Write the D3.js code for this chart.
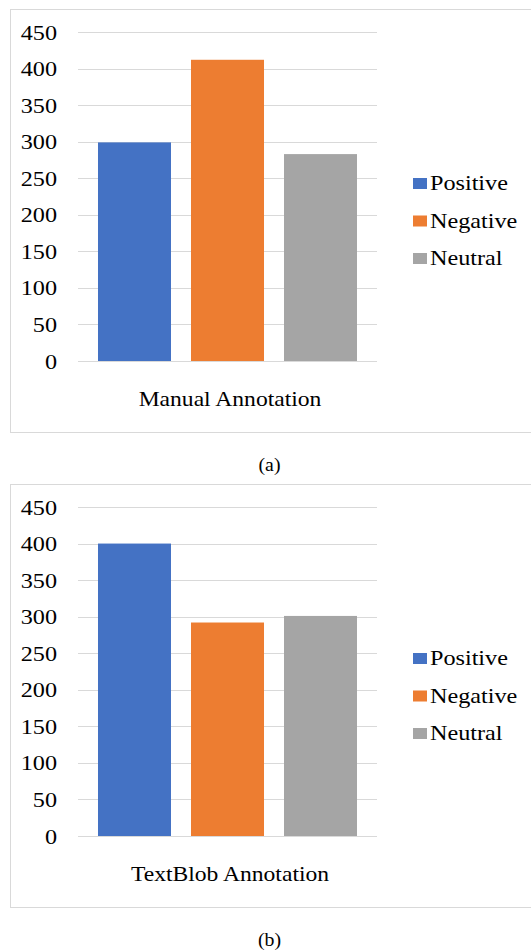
<!DOCTYPE html>
<html>
<head>
<meta charset="utf-8">
<script src="https://cdn.jsdelivr.net/npm/d3@7"></script>
<style>
  html, body { margin: 0; padding: 0; background: #fff; }
  svg { display: block; }
  svg text { font-family: "Liberation Serif", "Times New Roman", serif; }
</style>
</head>
<body>
<svg id="chart" width="531" height="952"></svg>
<script>
// Sentiment counts per annotation method
const series = ["Positive", "Negative", "Neutral"];
const colors = ["#4472c4", "#ed7d31", "#a5a5a5"];
const manualValues = [299, 412, 283];
const textblobValues = [400, 292, 301];
const yTicks = [0, 50, 100, 150, 200, 250, 300, 350, 400, 450];
const panelLabels = ["Manual Annotation", "TextBlob Annotation"];
const captions = ["(a)", "(b)"];

const svg = d3.select("#chart");
const SX = 1.18; // horizontal stretch of the text glyphs

function drawPanel(top, values, label, caption) {
  const g = svg.append("g").attr("transform", `translate(0,${top})`)
    .attr("fill", "#000");

  // chart frame
  g.append("rect")
    .attr("x", 10.5).attr("y", 9.5)
    .attr("width", 530).attr("height", 423)
    .attr("fill", "#fff").attr("stroke", "#d9d9d9").attr("stroke-width", 1);

  const y = d3.scaleLinear().domain([0, 450]).range([361, 32]);
  const x = d3.scaleBand().domain(series).range([78, 377])
    .paddingInner(0.215).paddingOuter(0.215);

  // gridlines
  g.append("g").selectAll("line").data(yTicks).join("line")
    .attr("x1", 78).attr("x2", 377)
    .attr("y1", d => Math.round(y(d)) + 0.5).attr("y2", d => Math.round(y(d)) + 0.5)
    .attr("stroke", "#d9d9d9").attr("stroke-width", 1);

  // y tick labels
  g.append("g").selectAll("text").data(yTicks).join("text")
    .attr("transform", d => `translate(57,${y(d) + 7.5}) scale(${SX},1)`)
    .attr("text-anchor", "end")
    .attr("font-size", 20.5)
    .text(d => d);

  // bars
  g.append("g").selectAll("rect").data(values).join("rect")
    .attr("x", (d, i) => x(series[i]))
    .attr("width", x.bandwidth())
    .attr("y", d => y(d))
    .attr("height", d => y(0) - y(d))
    .attr("fill", (d, i) => colors[i]);

  // category label
  g.append("text")
    .attr("transform", `translate(230,406) scale(${SX},1)`)
    .attr("text-anchor", "middle")
    .attr("font-size", 20)
    .text(label);

  // legend
  const leg = g.append("g").selectAll("g").data(series).join("g")
    .attr("transform", (d, i) => `translate(413,${190 + i * 37.5})`);
  leg.append("rect")
    .attr("x", 0).attr("y", -12).attr("width", 14).attr("height", 11)
    .attr("fill", (d, i) => colors[i]);
  leg.append("text")
    .attr("transform", `translate(17,0) scale(${SX},1)`)
    .attr("font-size", 20.5)
    .text(d => d);

  // sub-figure caption
  g.append("text")
    .attr("transform", `translate(269.5,471) scale(1.1,1)`)
    .attr("text-anchor", "middle")
    .attr("font-size", 18)
    .text(caption);
}

drawPanel(0, manualValues, panelLabels[0], captions[0]);
drawPanel(475, textblobValues, panelLabels[1], captions[1]);
</script>
</body>
</html>
